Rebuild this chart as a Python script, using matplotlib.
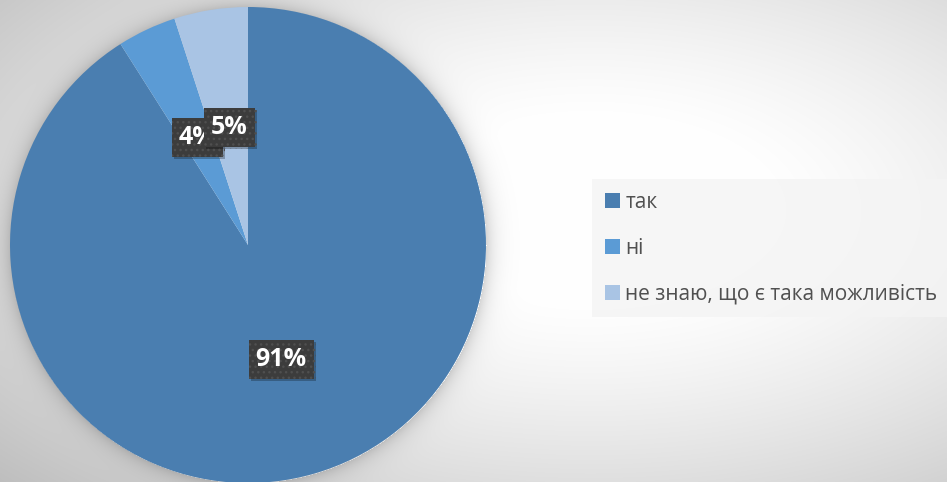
import matplotlib.pyplot as plt
import matplotlib.patheffects as pe
import numpy as np
from matplotlib.patches import Patch

labels = ['так', 'ні', 'не знаю, що є така можливість']
shares = [91, 4, 5]
colors = ['#4a7eb0', '#5b9bd5', '#a9c4e4']

W, H, DPI = 947, 482, 100
# pie placement in pixels (centre x, centre y from top, radius)
PIE_CX, PIE_CY, PIE_R = 248, 245, 238

plt.rcParams['font.family'] = ['Open Sans', 'DejaVu Sans']

fig = plt.figure(figsize=(W / DPI, H / DPI), dpi=DPI)

# background: soft radial gradient plus a glow under the pie
bg = fig.add_axes([0, 0, 1, 1])
yy, xx = np.mgrid[0:H, 0:W]
u = (xx - 590) / W
v = (yy - 210) / H
r = np.sqrt(u ** 2 + v ** 2)
shade = 1.0 - 0.2 * np.clip((r - 0.18) / 0.55, 0, None) ** 1.3
d = np.sqrt((xx - PIE_CX) ** 2 + (yy - PIE_CY) ** 2) - PIE_R
glow = np.where(d > 0, 0.16 * np.exp(-d / 9.0), 0)
shade = shade * (1 - glow)
bg.imshow(np.dstack([shade] * 3), extent=(0, W, H, 0), aspect='auto')
bg.set_axis_off()

ax = fig.add_axes([(PIE_CX - PIE_R) / W, (H - PIE_CY - PIE_R) / H,
                   2 * PIE_R / W, 2 * PIE_R / H])
wedges, texts, autotexts = ax.pie(
    shares, colors=colors, startangle=90, counterclock=False,
    autopct='%d%%', pctdistance=0.5, radius=1,
    wedgeprops=dict(linewidth=0),
    textprops=dict(color='white', fontsize=18, fontweight='bold'))

for t in autotexts:
    t.set_bbox(dict(boxstyle='square,pad=0.28', linewidth=0,
                    facecolor='#3c3c3c', edgecolor='#4f4f4f', hatch='...'))
    # soft drop shadow behind each label box
    t.get_bbox_patch().set_path_effects([
        pe.SimplePatchShadow(offset=(1.5, -1.5), shadow_rgbFace='black',
                             alpha=0.25),
        pe.Normal()])
ax.set_xlim(-1, 1)
ax.set_ylim(-1, 1)
ax.set_axis_off()

handles = [Patch(facecolor=c, edgecolor='none') for c in colors]
leg = fig.legend(handles, labels, loc='center left',
                 bbox_to_anchor=(592 / W, 1 - 248 / H),
                 frameon=True, fancybox=False, fontsize=15,
                 handlelength=0.75, handleheight=0.75, handletextpad=0.25,
                 labelspacing=1.2, borderpad=0.6, borderaxespad=0)
leg.get_frame().set_facecolor('#f4f4f4')
leg.get_frame().set_edgecolor('none')
for t in leg.get_texts():
    t.set_color('#505050')

fig.savefig('out.png', dpi=DPI)
